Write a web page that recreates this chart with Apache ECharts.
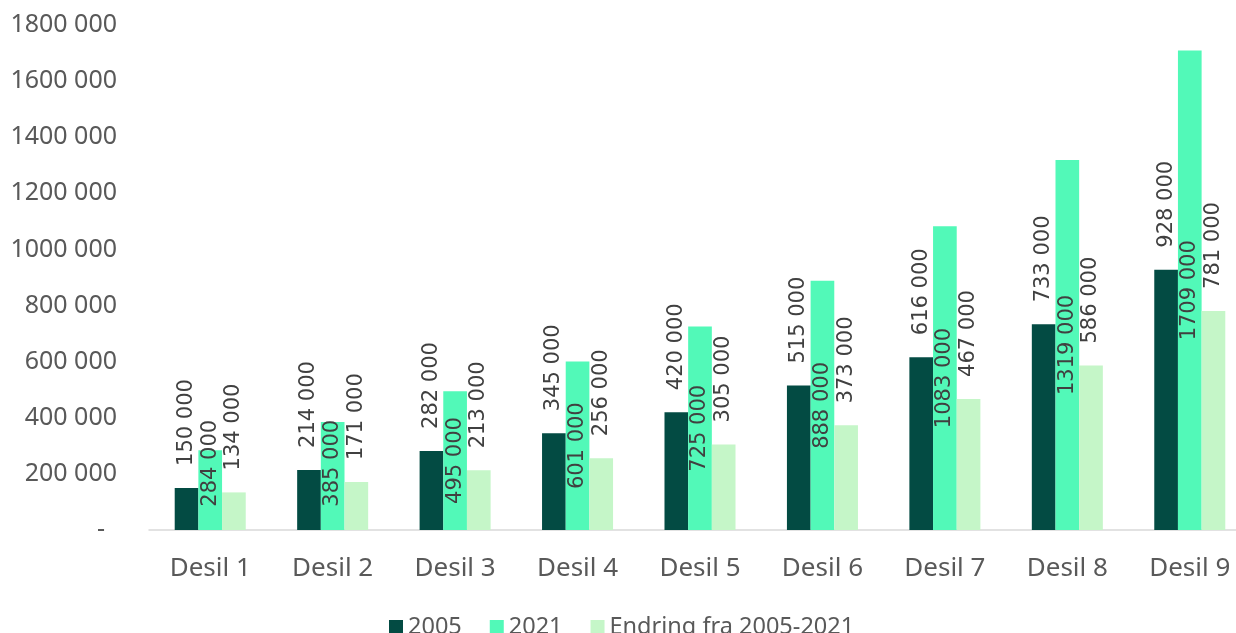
<!DOCTYPE html>
<html>
<head>
<meta charset="utf-8">
<script src="https://cdn.jsdelivr.net/npm/echarts@6/dist/echarts.min.js"></script>
<style>
  html, body { margin: 0; padding: 0; background: #fff; }
  #chart { width: 1236px; height: 633px; }
</style>
</head>
<body>
<div id="chart"></div>
<script>
  // data
  var categories = ['Desil 1', 'Desil 2', 'Desil 3', 'Desil 4', 'Desil 5', 'Desil 6', 'Desil 7', 'Desil 8', 'Desil 9'];
  var values2005 = [150000, 214000, 282000, 345000, 420000, 515000, 616000, 733000, 928000];
  var values2021 = [284000, 385000, 495000, 601000, 725000, 888000, 1083000, 1319000, 1709000];
  var valuesChange = [134000, 171000, 213000, 256000, 305000, 373000, 467000, 586000, 781000];
  var yTicks = [0, 200000, 400000, 600000, 800000, 1000000, 1200000, 1400000, 1600000, 1800000];

  var axisFont = '"Noto Sans", "Open Sans", sans-serif';
  var labelFont = '"DejaVu Sans", sans-serif';

  function fmt(v) {
    var s = String(Math.round(v));
    if (s.length <= 3) return s;
    return s.slice(0, s.length - 3) + ' ' + s.slice(s.length - 3);
  }

  var chart = echarts.init(document.getElementById('chart'));

  // px per unit of value, used to keep the inner label of short bars off the axis (like excel does)
  var pxPerUnit = 505 / 1800000;
  var minCenter = 238000;
  var data2021 = values2021.map(function (v) {
    var shift = v / 2 < minCenter ? (minCenter - v / 2) * pxPerUnit : 0;
    // offset is in the rotated label frame: +x goes up on screen
    return { value: v, label: { offset: [shift, 0] } };
  });

  var topLabel = {
    show: true,
    position: 'top',
    rotate: 90,
    align: 'left',
    verticalAlign: 'middle',
    distance: 22,
    color: '#404040',
    fontFamily: labelFont,
    fontSize: 21,
    formatter: function (p) { return fmt(p.value); }
  };

  var option = {
    animation: false,
    textStyle: { fontFamily: axisFont },
    grid: {
      left: 149,
      right: -15,
      top: 25,
      bottom: 103,
      containLabel: false,
      outerBoundsMode: 'none'
    },
    legend: {
      bottom: -11,
      left: 384,
      itemWidth: 14,
      itemHeight: 14,
      itemGap: 28,
      icon: 'rect',
      textStyle: { color: '#595959', fontSize: 23.5, fontFamily: axisFont },
      data: ['2005', '2021', 'Endring fra 2005-2021']
    },
    xAxis: {
      type: 'category',
      data: categories,
      axisLine: { lineStyle: { color: '#d9d9d9', width: 1.5 } },
      axisTick: { show: false },
      axisLabel: { color: '#595959', fontSize: 26, margin: 26, fontFamily: axisFont }
    },
    yAxis: {
      type: 'value',
      min: yTicks[0],
      max: yTicks[yTicks.length - 1],
      interval: yTicks[1] - yTicks[0],
      splitLine: { show: false },
      axisLine: { show: false },
      axisTick: { show: false },
      axisLabel: {
        color: '#595959',
        fontSize: 25,
        margin: 32,
        fontFamily: axisFont,
        formatter: function (v) { return v === 0 ? '{z|-}' : fmt(v); },
        rich: { z: { fontSize: 25, color: '#595959', padding: [0, 12, 0, 0] } }
      }
    },
    series: [
      {
        name: '2005',
        type: 'bar',
        data: values2005,
        barGap: '0%',
        barCategoryGap: '42%',
        itemStyle: { color: '#034b43' },
        label: topLabel
      },
      {
        name: '2021',
        type: 'bar',
        data: data2021,
        itemStyle: { color: '#52f9b8' },
        label: {
          show: true,
          position: 'inside',
          rotate: 90,
          align: 'center',
          verticalAlign: 'middle',
          color: '#404040',
          fontFamily: labelFont,
          fontSize: 21,
          formatter: function (p) { return fmt(p.value); }
        }
      },
      {
        name: 'Endring fra 2005-2021',
        type: 'bar',
        data: valuesChange,
        itemStyle: { color: '#c5f6c8' },
        label: topLabel
      }
    ]
  };

  chart.setOption(option);
</script>
</body>
</html>
